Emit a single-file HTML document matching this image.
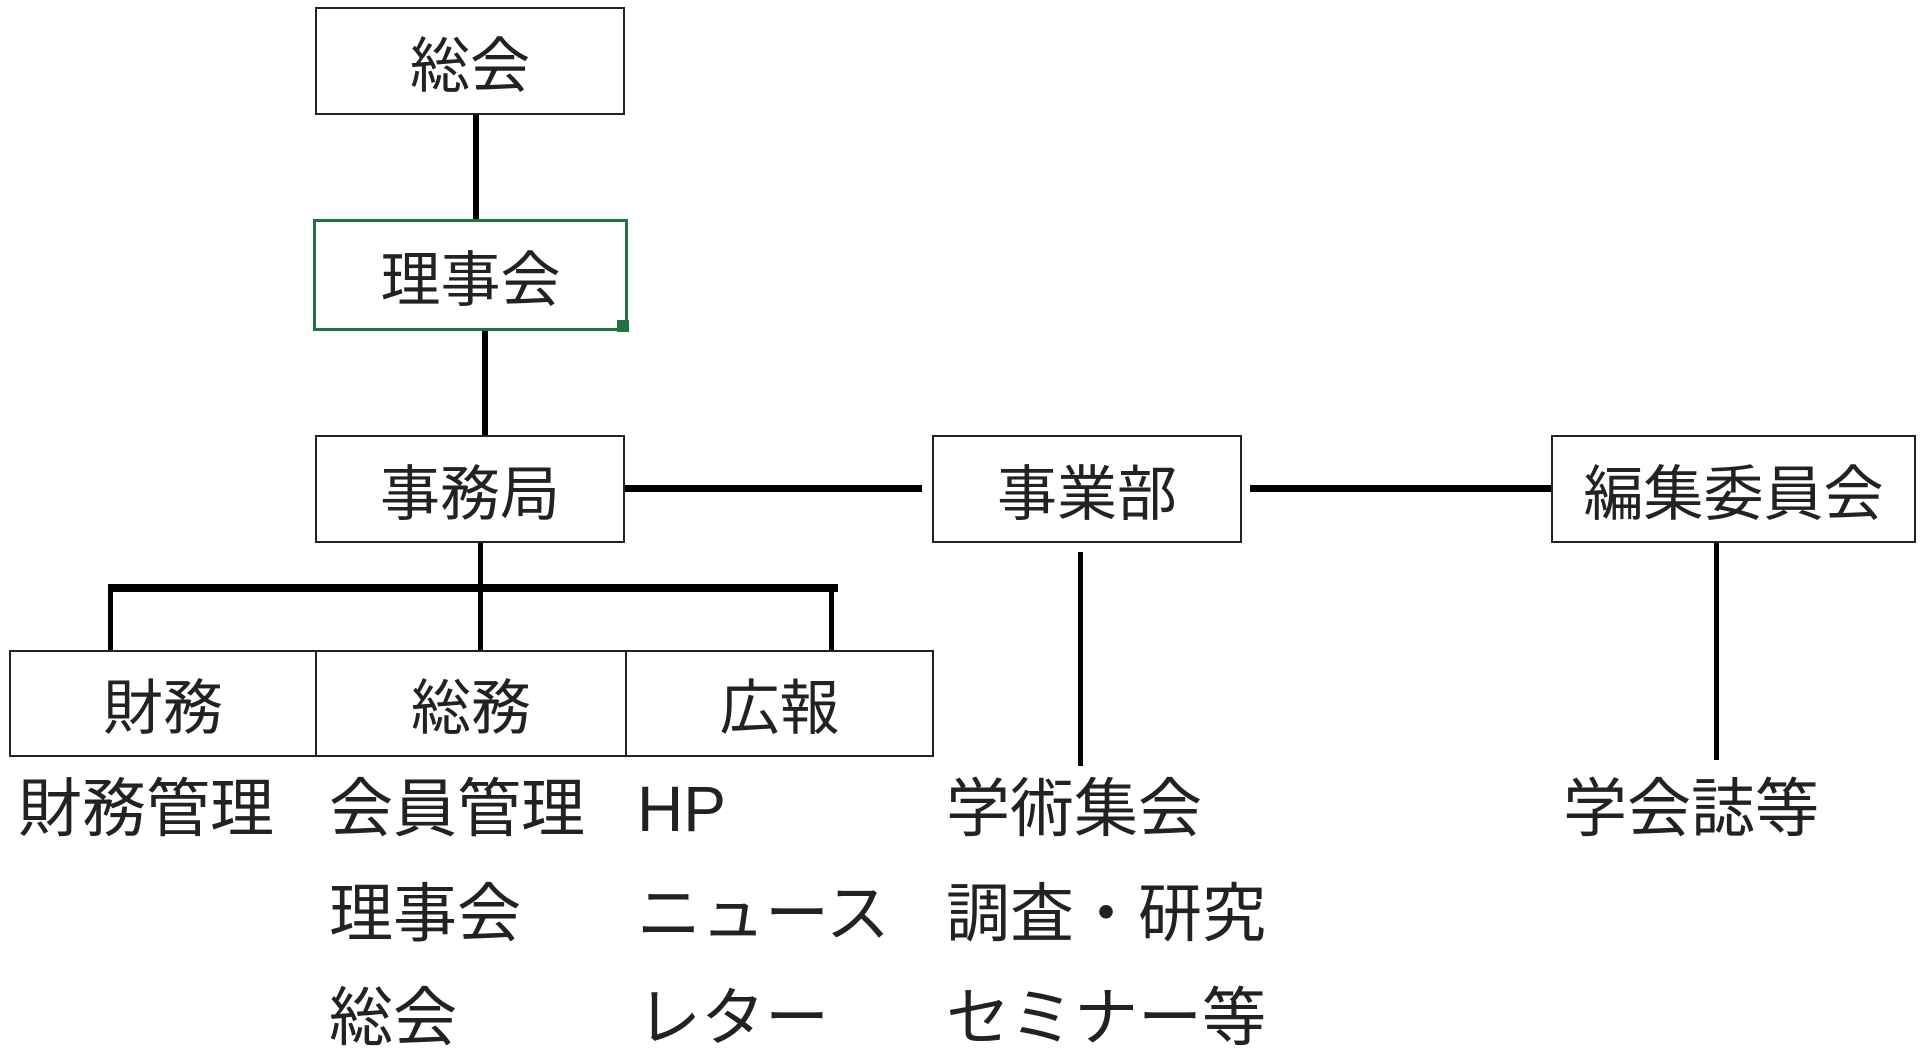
<!DOCTYPE html>
<html><head><meta charset="utf-8"><style>
html,body{margin:0;padding:0;background:#fff;}
body{width:1922px;height:1060px;position:relative;overflow:hidden;font-family:"Liberation Sans","Noto Sans CJK JP",sans-serif;color:#222;}
.b{position:absolute;border:2px solid #222;box-sizing:border-box;display:flex;align-items:center;justify-content:center;font-size:60px;}
.l{position:absolute;background:#000;}
.t{position:absolute;font-size:64px;line-height:1;white-space:nowrap;}
</style></head><body>
<div class="b" style="left:315px;top:7px;width:310px;height:108px;">総会</div>
<div class="l" style="left:473px;top:115px;width:6px;height:104px;"></div>
<div class="b" style="left:313px;top:219px;width:315px;height:112px;border:3px solid #217346;">理事会</div>
<div style="position:absolute;left:617px;top:320px;width:12px;height:12px;background:#217346;"></div>
<div class="l" style="left:482px;top:331px;width:6px;height:104px;"></div>
<div class="b" style="left:315px;top:435px;width:310px;height:108px;">事務局</div>
<div class="l" style="left:625px;top:485px;width:297px;height:7px;"></div>
<div class="b" style="left:932px;top:435px;width:310px;height:108px;">事業部</div>
<div class="l" style="left:1250px;top:485px;width:301px;height:7px;"></div>
<div class="b" style="left:1551px;top:435px;width:365px;height:108px;">編集委員会</div>
<div class="l" style="left:478px;top:543px;width:5px;height:107px;"></div>
<div class="l" style="left:108px;top:584px;width:730px;height:8px;"></div>
<div class="l" style="left:108px;top:588px;width:5px;height:62px;"></div>
<div class="l" style="left:829px;top:588px;width:5px;height:62px;"></div>
<div class="b" style="left:9px;top:650px;width:308px;height:107px;">財務</div>
<div class="b" style="left:315px;top:650px;width:312px;height:107px;">総務</div>
<div class="b" style="left:625px;top:650px;width:309px;height:107px;">広報</div>
<div class="l" style="left:1078px;top:552px;width:5px;height:214px;"></div>
<div class="l" style="left:1714px;top:543px;width:5px;height:217px;"></div>
<div class="t" style="left:18px;top:777px;">財務管理</div>
<div class="t" style="left:329px;top:777px;">会員管理</div>
<div class="t" style="left:637px;top:777px;">HP</div>
<div class="t" style="left:946px;top:777px;">学術集会</div>
<div class="t" style="left:1563px;top:777px;">学会誌等</div>
<div class="t" style="left:329px;top:882px;">理事会</div>
<div class="t" style="left:637px;top:882px;">ニュース</div>
<div class="t" style="left:946px;top:882px;">調査・研究</div>
<div class="t" style="left:329px;top:986px;">総会</div>
<div class="t" style="left:637px;top:986px;">レター</div>
<div class="t" style="left:946px;top:986px;">セミナー等</div>
</body></html>
